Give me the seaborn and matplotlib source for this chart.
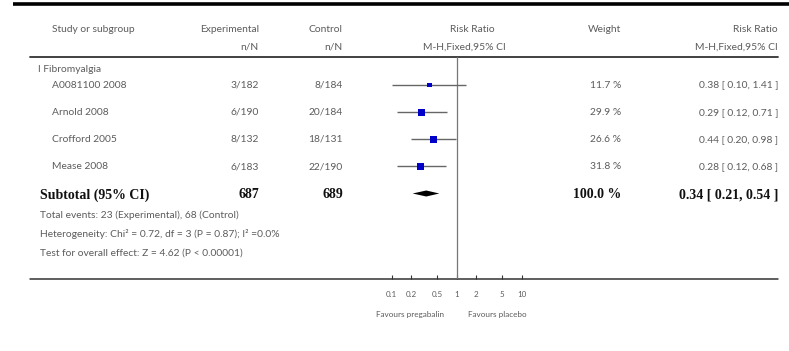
import numpy as np
import pandas as pd
import matplotlib
matplotlib.use("Agg")
import matplotlib.pyplot as plt
import seaborn as sns

# ---- data -------------------------------------------------------------
subgroup = "I Fibromyalgia"
studies = ["A0081100 2008", "Arnold 2008", "Crofford 2005", "Mease 2008"]
exp_events = [3, 6, 8, 6]
exp_totals = [182, 190, 132, 183]
ctrl_events = [8, 20, 18, 22]
ctrl_totals = [184, 184, 131, 190]
weights = [11.7, 29.9, 26.6, 31.8]
risk_ratio = [0.38, 0.29, 0.44, 0.28]
ci_low = [0.10, 0.12, 0.20, 0.12]
ci_high = [1.41, 0.71, 0.98, 0.68]

pooled_rr = 0.34
pooled_low = 0.21
pooled_high = 0.54
pooled_weight = 100.0
exp_sum = 687
ctrl_sum = 689

footer_lines = [
    "Total events: 23 (Experimental), 68 (Control)",
    "Heterogeneity: Chi\u00b2 = 0.72, df = 3 (P = 0.87); I\u00b2 =0.0%",
    "Test for overall effect: Z = 4.62 (P < 0.00001)",
]
tick_values = [0.1, 0.2, 0.5, 1, 2, 5, 10]
tick_labels = ["0.1", "0.2", "0.5", "1", "2", "5", "10"]
left_favour = "Favours pregabalin"
right_favour = "Favours placebo"

# ---- style ------------------------------------------------------------
sns.set_theme(style="white")
plt.rcParams["font.family"] = ["Lato", "DejaVu Sans"]

W, H = 789, 351
GREY = "#5c5c5c"
fig = plt.figure(figsize=(W / 100, H / 100), dpi=100)

# table layer in pixel coordinates
tab = fig.add_axes([0, 0, 1, 1])
tab.set_xlim(0, W)
tab.set_ylim(H, 0)
tab.axis("off")

fs = 7.4
serif_bold = dict(family=["Liberation Serif", "DejaVu Serif"], fontweight="bold",
                  fontsize=10.0, color="#111111")

# rules
tab.plot([13, W], [4, 4], color="black", lw=2.6, solid_capstyle="butt")
tab.plot([30, 778], [57, 57], color="#333333", lw=1.3)
tab.plot([30, 778], [278.5, 278.5], color="#333333", lw=1.1)

# column x positions
x_name, x_exp, x_ctrl, x_rr_mid, x_w, x_rr = 52, 259, 343, 468, 621, 778

# headers
tab.text(x_name, 30, "Study or subgroup", fontsize=fs, color=GREY, va="center")
tab.text(x_exp, 30, "Experimental", fontsize=fs, color=GREY, va="center", ha="right")
tab.text(x_exp, 47, "n/N", fontsize=fs, color=GREY, va="center", ha="right")
tab.text(x_ctrl, 30, "Control", fontsize=fs, color=GREY, va="center", ha="right")
tab.text(x_ctrl, 47, "n/N", fontsize=fs, color=GREY, va="center", ha="right")
tab.text(x_rr_mid + 4, 30, "Risk Ratio", fontsize=fs, color=GREY, va="center", ha="center")
tab.text(x_rr_mid - 4, 47, "M-H,Fixed,95% CI", fontsize=fs, color=GREY, va="center", ha="center")
tab.text(x_w, 30, "Weight", fontsize=fs, color=GREY, va="center", ha="right")
tab.text(x_rr, 30, "Risk Ratio", fontsize=fs, color=GREY, va="center", ha="right")
tab.text(x_rr, 47, "M-H,Fixed,95% CI", fontsize=fs, color=GREY, va="center", ha="right")

tab.text(38, 69, subgroup, fontsize=fs, color=GREY, va="center")

row_y = [85, 112.3, 139.3, 166.5]
for i, y in enumerate(row_y):
    tab.text(x_name, y, studies[i], fontsize=fs, color=GREY, va="center")
    tab.text(x_exp, y, f"{exp_events[i]}/{exp_totals[i]}", fontsize=fs, color=GREY,
             va="center", ha="right")
    tab.text(x_ctrl, y, f"{ctrl_events[i]}/{ctrl_totals[i]}", fontsize=fs, color=GREY,
             va="center", ha="right")
    tab.text(x_w, y, f"{weights[i]:.1f} %", fontsize=fs, color=GREY, va="center", ha="right")
    tab.text(x_rr, y, f"{risk_ratio[i]:.2f} [ {ci_low[i]:.2f}, {ci_high[i]:.2f} ]",
             fontsize=fs, color=GREY, va="center", ha="right")

y_sub = 195
tab.text(40, y_sub, "Subtotal (95% CI)", va="center", **serif_bold)
tab.text(x_exp, y_sub, f"{exp_sum}", va="center", ha="right", **serif_bold)
tab.text(x_ctrl, y_sub, f"{ctrl_sum}", va="center", ha="right", **serif_bold)
tab.text(x_w, y_sub, f"{pooled_weight:.1f} %", va="center", ha="right", **serif_bold)
tab.text(x_rr, y_sub, f"{pooled_rr:.2f} [ {pooled_low:.2f}, {pooled_high:.2f} ]",
         va="center", ha="right", **serif_bold)

for line, y in zip(footer_lines, [215, 234, 253]):
    tab.text(40, y, line, fontsize=fs, color=GREY, va="center")

tab.text(410, 314, left_favour, fontsize=5.9, color=GREY, va="center", ha="center")
tab.text(497, 314, right_favour, fontsize=5.9, color=GREY, va="center", ha="center")

# ---- forest panel on a log scale ---------------------------------------
x_one, decade = 456.7, 65.0
fx0, fx1 = x_one - 2 * decade, x_one + 2 * decade
fy_top, fy_bot = 57, 278.5
forest = fig.add_axes([fx0 / W, 1 - fy_bot / H, (fx1 - fx0) / W, (fy_bot - fy_top) / H])
forest.set_xscale("log")
forest.set_xlim(0.01, 100)
forest.set_ylim(fy_bot, fy_top)
forest.patch.set_alpha(0)
for s in forest.spines.values():
    s.set_visible(False)

df = pd.DataFrame({"study": studies, "rr": risk_ratio, "lo": ci_low, "hi": ci_high,
                   "weight": weights, "y": row_y})

forest.hlines(df["y"], df["lo"], df["hi"], color="#666666", lw=1.0, zorder=2)
sns.scatterplot(data=df, x="rr", y="y", size="weight", sizes=(0, 28),
                size_norm=(0, max(weights)), marker="s", color="#0000c8",
                edgecolor="none", legend=False, ax=forest, zorder=3)

# pooled estimate diamond
forest.fill([pooled_low, pooled_rr, pooled_high, pooled_rr],
            [193.5, 190.5, 193.5, 196.5], color="black", lw=0, zorder=3)

forest.axvline(1, color="#777777", lw=0.9, zorder=1)

forest.set_xticks(tick_values)
forest.set_xticklabels(tick_labels)
forest.xaxis.set_minor_locator(matplotlib.ticker.NullLocator())
forest.set_yticks([])
forest.set_xlabel("")
forest.set_ylabel("")
forest.tick_params(axis="x", direction="in", length=3, width=0.8, color="#333333",
                   labelsize=5.8, labelcolor=GREY, pad=9, bottom=True)

fig.savefig("out.png", dpi=100, facecolor="white")
